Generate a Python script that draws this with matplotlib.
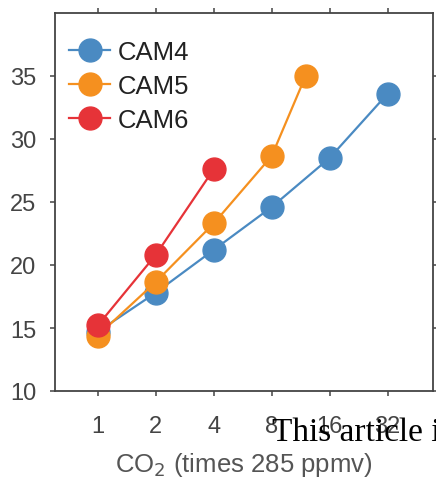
import matplotlib
matplotlib.use("Agg")
import matplotlib.pyplot as plt
from matplotlib.ticker import FixedLocator, FixedFormatter, NullLocator

x_cam4 = [1, 2, 4, 8, 16, 32]
y_cam4 = [14.7, 17.8, 21.2, 24.6, 28.5, 33.6]
x_cam5 = [1, 2, 4, 8, 12]
y_cam5 = [14.4, 18.65, 23.3, 28.65, 35.0]
x_cam6 = [1, 2, 4]
y_cam6 = [15.2, 20.8, 27.6]
xticks = [1, 2, 4, 8, 16, 32]
xticklabels = ["1", "2", "4", "8", "16", "32"]
yticks = [10, 15, 20, 25, 30, 35]

c4 = "#4a8ac2"
c5 = "#f5901f"
c6 = "#e63338"

plt.rcParams['font.family'] = ['Liberation Sans', 'DejaVu Sans']
fig = plt.figure(figsize=(4.36, 4.81), dpi=100)
ax = fig.add_axes([55/436, 1-392/481, (433-55)/436, (392-14)/481])

ms = 16.5
lw = 1.6
ax.plot(x_cam4, y_cam4, '-o', color=c4, lw=lw, ms=ms, label="CAM4", zorder=3)
ax.plot(x_cam5, y_cam5, '-o', color=c5, lw=lw, ms=ms, label="CAM5", zorder=4)
ax.plot(x_cam6, y_cam6, '-o', color=c6, lw=lw, ms=ms, label="CAM6", zorder=5)

ax.set_xscale('log', base=2)
ax.set_xlim(0.6, 55)
ax.set_ylim(10, 40)
ax.xaxis.set_major_locator(FixedLocator(xticks))
ax.xaxis.set_major_formatter(FixedFormatter(xticklabels))
ax.xaxis.set_minor_locator(NullLocator())
ax.set_yticks(yticks)

for s in ax.spines.values():
    s.set_color("#444444")
    s.set_linewidth(1.3)
ax.tick_params(direction='out', length=3.6, width=1.1, color="#444444",
               labelsize=17, labelcolor="#444444", top=True, right=True)
ax.tick_params(axis='x', pad=14)
ax.tick_params(axis='y', pad=10)

ax.set_xlabel("CO$_2$ (times 285 ppmv)", fontsize=18.5, color="#555555", labelpad=9)

leg = ax.legend(loc='upper left', frameon=False, fontsize=18.5, handlelength=1.6,
                handletextpad=0.3, labelspacing=0.38, borderaxespad=0.3,
                bbox_to_anchor=(-0.01, 0.975))
for t in leg.get_texts():
    t.set_color("#222222")

fig.text(272/436, 1-441/481, "This article i", fontsize=24, family=['Liberation Serif', 'DejaVu Serif'],
         color="black", ha='left', va='baseline')

fig.savefig("out.png", dpi=100)
